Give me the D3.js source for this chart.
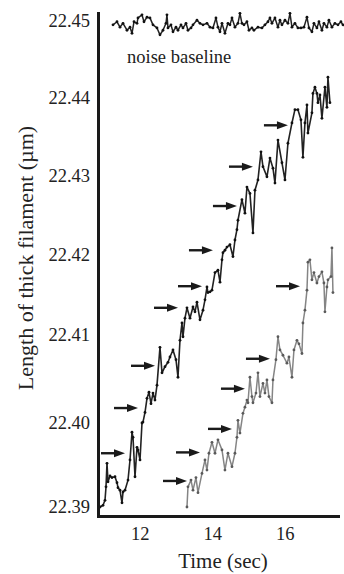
<!DOCTYPE html>
<html><head><meta charset="utf-8">
<script src="https://cdn.jsdelivr.net/npm/d3@7"></script>
<style>html,body{margin:0;padding:0;background:#fff;} svg{display:block;font-family:"Liberation Serif","Times New Roman",serif;}</style>
</head><body><svg id="c" width="344" height="574"></svg>
<script>
// ---- data ----
const timeTicks = [12, 14, 16];
const lengthTicks = [22.39, 22.40, 22.41, 22.42, 22.43, 22.44, 22.45];

// upper (dark) stepping trace: [time s, length µm]
const trace1 = [
[10.905,22.3900],[10.988,22.3902],[11.043,22.3908],[11.071,22.3924],[11.098,22.3952],[11.126,22.3930],[11.181,22.3937],[11.236,22.3935],
[11.319,22.3936],[11.374,22.3929],[11.402,22.3923],[11.457,22.3920],[11.512,22.3905],[11.540,22.3918],[11.595,22.3920],[11.678,22.3932],
[11.733,22.3956],[11.788,22.3989],[11.816,22.3983],[11.871,22.3936],[11.926,22.3971],[11.953,22.3968],[12.009,22.3956],[12.064,22.4000],
[12.091,22.4001],[12.147,22.4012],[12.202,22.4028],[12.257,22.4035],[12.312,22.4022],[12.367,22.4034],[12.422,22.4026],[12.478,22.4043],
[12.560,22.4086],[12.616,22.4057],[12.698,22.4064],[12.781,22.4069],[12.836,22.4075],[12.919,22.4083],[13.002,22.4072],[13.057,22.4052],
[13.112,22.4094],[13.167,22.4115],[13.195,22.4098],[13.250,22.4121],[13.305,22.4134],[13.388,22.4121],[13.471,22.4135],[13.526,22.4129],
[13.581,22.4141],[13.664,22.4119],[13.747,22.4131],[13.802,22.4144],[13.857,22.4160],[13.884,22.4153],[13.940,22.4154],[13.995,22.4156],
[14.078,22.4178],[14.160,22.4181],[14.216,22.4166],[14.271,22.4194],[14.298,22.4203],[14.353,22.4206],[14.409,22.4210],[14.491,22.4213],
[14.574,22.4198],[14.629,22.4219],[14.684,22.4232],[14.712,22.4244],[14.822,22.4270],[14.905,22.4253],[14.960,22.4286],[15.043,22.4278],
[15.126,22.4228],[15.181,22.4282],[15.264,22.4295],[15.347,22.4331],[15.402,22.4312],[15.512,22.4299],[15.595,22.4323],[15.678,22.4310],
[15.733,22.4291],[15.816,22.4346],[15.926,22.4317],[16.009,22.4295],[16.091,22.4342],[16.202,22.4368],[16.284,22.4385],[16.367,22.4385],
[16.450,22.4372],[16.505,22.4324],[16.560,22.4368],[16.616,22.4391],[16.643,22.4355],[16.753,22.4381],[16.781,22.4406],[16.836,22.4414],
[16.891,22.4406],[16.919,22.4394],[16.974,22.4404],[17.029,22.4374],[17.112,22.4414],[17.167,22.4388],[17.195,22.4427],[17.250,22.4394]
];

// lower (grey) stepping trace
const trace2 = [
[13.305,22.3900],[13.333,22.3924],[13.416,22.3932],[13.471,22.3920],[13.553,22.3935],[13.609,22.3917],[13.719,22.3940],[13.802,22.3956],
[13.857,22.3944],[13.912,22.3964],[13.995,22.3977],[14.078,22.3964],[14.160,22.3980],[14.271,22.3968],[14.353,22.3944],[14.436,22.3964],
[14.547,22.3948],[14.629,22.3964],[14.684,22.3983],[14.712,22.4003],[14.767,22.3988],[14.850,22.4011],[14.905,22.4018],[14.960,22.4026],
[14.988,22.4023],[15.043,22.4052],[15.098,22.4030],[15.126,22.4023],[15.209,22.4034],[15.264,22.4057],[15.319,22.4030],[15.402,22.4045],
[15.457,22.4034],[15.512,22.4049],[15.567,22.4030],[15.650,22.4023],[15.678,22.4049],[15.760,22.4072],[15.816,22.4098],[15.871,22.4083],
[15.953,22.4077],[16.064,22.4068],[16.119,22.4075],[16.202,22.4052],[16.257,22.4083],[16.340,22.4094],[16.395,22.4090],[16.478,22.4079],
[16.505,22.4115],[16.560,22.4131],[16.616,22.4156],[16.643,22.4191],[16.698,22.4194],[16.753,22.4169],[16.809,22.4178],[16.891,22.4165],
[16.947,22.4173],[17.029,22.4179],[17.084,22.4165],[17.112,22.4129],[17.167,22.4160],[17.195,22.4169],[17.278,22.4173],[17.305,22.4209],
[17.333,22.4153]
];

// noise baseline trace
const noise = [
[11.264,22.4495],[11.374,22.4499],[11.457,22.4492],[11.540,22.4497],[11.650,22.4488],[11.733,22.4492],[11.788,22.4484],[11.843,22.4499],
[11.926,22.4497],[11.953,22.4504],[12.064,22.4508],[12.119,22.4499],[12.202,22.4505],[12.284,22.4504],[12.367,22.4495],[12.478,22.4491],
[12.560,22.4482],[12.643,22.4488],[12.726,22.4497],[12.753,22.4508],[12.781,22.4491],[12.864,22.4495],[12.919,22.4486],[13.002,22.4492],
[13.057,22.4488],[13.140,22.4495],[13.195,22.4491],[13.278,22.4497],[13.333,22.4488],[13.416,22.4491],[13.471,22.4495],[13.581,22.4501],
[13.664,22.4497],[13.747,22.4495],[13.857,22.4497],[13.940,22.4492],[14.022,22.4491],[14.105,22.4504],[14.160,22.4492],[14.216,22.4486],
[14.271,22.4497],[14.353,22.4484],[14.436,22.4497],[14.491,22.4495],[14.547,22.4504],[14.629,22.4492],[14.712,22.4497],[14.767,22.4510],
[14.822,22.4497],[14.878,22.4495],[14.960,22.4499],[15.016,22.4488],[15.098,22.4491],[15.153,22.4488],[15.264,22.4492],[15.374,22.4491],
[15.457,22.4495],[15.540,22.4499],[15.595,22.4504],[15.650,22.4497],[15.733,22.4504],[15.816,22.4492],[15.871,22.4501],[15.926,22.4495],
[16.009,22.4501],[16.091,22.4497],[16.147,22.4510],[16.202,22.4492],[16.284,22.4497],[16.367,22.4491],[16.450,22.4491],[16.533,22.4492],
[16.616,22.4505],[16.671,22.4491],[16.753,22.4486],[16.809,22.4497],[16.891,22.4491],[16.947,22.4499],[17.029,22.4488],[17.084,22.4497],
[17.167,22.4492],[17.222,22.4501],[17.305,22.4492],[17.388,22.4497],[17.471,22.4495],[17.553,22.4499],[17.609,22.4495]
];

// step arrows (tip position) for each trace
const arrows1 = [[11.595,22.3964],[11.953,22.4017],[12.422,22.4065],[13.057,22.4134],[13.719,22.4161],[14.022,22.4206],[14.684,22.4262],[15.126,22.4312],[16.091,22.4365]];
const arrows2 = [[13.305,22.3931],[13.664,22.3965],[14.547,22.3993],[14.905,22.4039],[15.595,22.4073],[16.423,22.4161]];

// ---- chart ----
const svg = d3.select("#c");
const ink = "#1a1a1a";
const x = d3.scaleLinear().domain([10.85, 17.5]).range([98, 339]);
const y = d3.scaleLinear().domain(lengthTicks).range([507, 423, 335, 255, 176, 98, 21]);

const line = d3.line().x(d => x(d[0])).y(d => y(d[1]));

function drawTrace(data, stroke, dot, w) {
  const g = svg.append("g");
  g.append("path").datum(data).attr("d", line)
    .attr("fill", "none").attr("stroke", stroke).attr("stroke-width", w).attr("stroke-linejoin", "round");
  g.selectAll("circle").data(data).join("circle")
    .attr("cx", d => x(d[0])).attr("cy", d => y(d[1])).attr("r", 1.4).attr("fill", dot);
}
drawTrace(noise, "#222", "#111", 1.5);
drawTrace(trace1, "#222", "#111", 1.6);
drawTrace(trace2, "#858585", "#5a5a5a", 1.5);

function drawArrows(data) {
  const g = svg.append("g").attr("fill", ink).attr("stroke", ink);
  data.forEach(d => {
    const tx = x(d[0]), ty = y(d[1]);
    g.append("line").attr("x1", tx - 24).attr("x2", tx - 8).attr("y1", ty).attr("y2", ty).attr("stroke-width", 2.4);
    g.append("path").attr("stroke", "none")
      .attr("d", `M${tx},${ty}L${tx - 11},${ty - 4}L${tx - 11},${ty + 4}Z`);
  });
}
drawArrows(arrows1);
drawArrows(arrows2);

// axes lines
svg.append("line").attr("x1", 98.5).attr("x2", 98.5).attr("y1", 12).attr("y2", 518).attr("stroke", ink).attr("stroke-width", 3);
svg.append("line").attr("x1", 97).attr("x2", 340).attr("y1", 516.5).attr("y2", 516.5).attr("stroke", ink).attr("stroke-width", 3);

// tick labels
const ya = svg.append("g").attr("transform", "translate(98,0)")
  .call(d3.axisLeft(y).tickValues(lengthTicks).tickFormat(d3.format(".2f")).tickSize(0).tickPadding(8));
ya.select(".domain").remove();
ya.selectAll("text").attr("font-size", 18.5).attr("fill", "#222").attr("font-family", "Liberation Serif");

const xa = svg.append("g").attr("transform", "translate(0,517)")
  .call(d3.axisBottom(x).tickValues(timeTicks).tickFormat(d3.format("d")).tickSize(0).tickPadding(10));
xa.select(".domain").remove();
xa.selectAll("text").attr("font-size", 18.5).attr("fill", "#222").attr("font-family", "Liberation Serif");

// titles
svg.append("text").attr("x", 223).attr("y", 568).attr("text-anchor", "middle")
  .attr("font-size", 21).attr("fill", "#222").text("Time (sec)");
svg.append("text").attr("transform", "translate(33,258) rotate(-90)").attr("text-anchor", "middle")
  .attr("font-size", 22).attr("fill", "#222").text("Length of thick filament (µm)");
svg.append("text").attr("x", 127).attr("y", 63).attr("font-size", 18.5).attr("fill", "#222").text("noise baseline");
</script>
</body></html>
